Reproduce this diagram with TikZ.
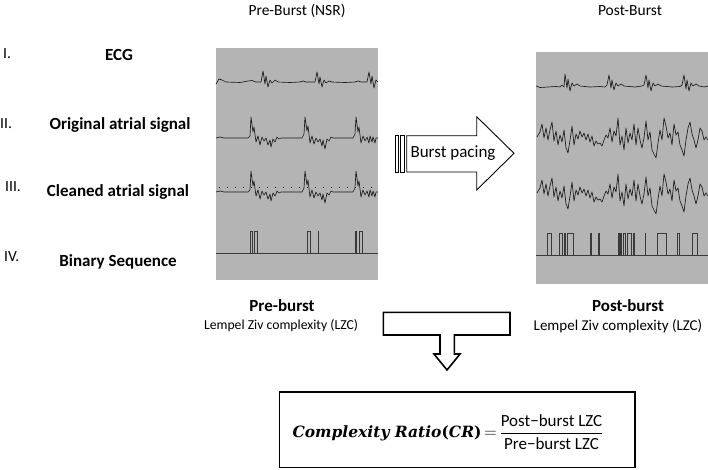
\documentclass[tikz,border=0pt]{standalone}
\usepackage{fontspec}
\usepackage{amsmath}
\setmainfont{Carlito}
\newfontfamily\cambriabi{DejaVu Serif}
\definecolor{panelgray}{HTML}{B4B4B4}
\definecolor{tracecol}{HTML}{1A1A1A}
\definecolor{bincol}{HTML}{3A3A3A}
\tikzset{
  panel/.style={fill=panelgray,draw=none},
  trace/.style={draw=tracecol,line width=0.65pt,line join=round},
  binline/.style={draw=bincol,line width=0.8pt},
  lab/.style={inner sep=0pt,font=\fontsize{17}{20}\selectfont\bfseries},
  roman/.style={inner sep=0pt,anchor=west,font=\fontsize{15.5}{18}\selectfont},
  title/.style={inner sep=0pt,font=\fontsize{15.5}{18}\selectfont},
  blockarrow/.style={draw=black,fill=white,line width=0.9pt,line join=miter},
}
\newcommand\leftatr{%
\draw[trace] (216,138) -- (220,137) -- (224,138) -- (248,138) -- (250,136) -- (251,117) -- (253,132) -- (254,127) -- (256,142) -- (258,136) -- (260,145) -- (262,137) -- (264,141) -- (266,138) -- (268,145) -- (270,140) -- (271,147) -- (273,139) -- (275,142) -- (277,137) -- (279,139) -- (281,138) -- (302,138) -- (304,134) -- (305,117) -- (307,131) -- (308,126) -- (310,143) -- (312,136) -- (314,144) -- (316,138) -- (318,142) -- (320,139) -- (322,146) -- (323,140) -- (325,149) -- (327,139) -- (329,141) -- (331,137) -- (333,138) -- (353,138) -- (355,134) -- (356,117) -- (358,132) -- (359,127) -- (361,143) -- (363,136) -- (365,141) -- (367,137) -- (369,143) -- (370,136) -- (372,142) -- (373,137) -- (375,143) -- (376,138) -- (378,138);}
\newcommand\rightatr{%
\draw[trace] (537,137) -- (540,132) -- (542,124) -- (544,138) -- (546,128) -- (548,140) -- (550,130) -- (552,122) -- (554,141) -- (556,131) -- (558,145) -- (560,135) -- (562,142) -- (564,130) -- (566,148) -- (568,153) -- (570,140) -- (572,126) -- (574,145) -- (576,134) -- (578,139) -- (580,131) -- (582,137) -- (584,133) -- (586,140) -- (588,134) -- (590,142) -- (592,136) -- (594,146) -- (596,141) -- (598,144) -- (600,143) -- (602,146) -- (604,140) -- (606,135) -- (608,138) -- (610,128) -- (612,142) -- (614,131) -- (616,136) -- (618,118) -- (620,145) -- (622,136) -- (624,150) -- (626,128) -- (628,143) -- (630,133) -- (632,140) -- (634,124) -- (636,145) -- (638,128) -- (640,140) -- (642,148) -- (644,138) -- (646,121) -- (648,140) -- (650,132) -- (652,150) -- (654,154) -- (656,158) -- (658,143) -- (660,130) -- (662,140) -- (664,118) -- (666,126) -- (668,138) -- (670,133) -- (672,145) -- (674,124) -- (676,135) -- (678,132) -- (680,145) -- (682,150) -- (684,156) -- (686,140) -- (688,128) -- (690,122) -- (692,134) -- (694,140) -- (696,148) -- (698,140) -- (700,128) -- (702,131) -- (704,140) -- (706,137) -- (708,140);}
\begin{document}
\begin{tikzpicture}[x=1pt,y=-1pt]
\useasboundingbox (0,0) rectangle (708,469);
% panels
\fill[panel] (216,48) rectangle (378,280);
\fill[panel] (536,52) rectangle (708,284);
% titles
\node[title] (pretitle) at (297,11) {Pre-Burst (NSR)};
\node[title] (posttitle) at (630,11) {Post-Burst};
% row labels
\node[roman] (r1) at (3,54) {I.};
\node[roman] (r2) at (0,124) {II.};
\node[roman] (r3) at (5,187) {III.};
\node[roman] (r4) at (4,257) {IV.};
\node[lab] (l1) at (119,55) {ECG};
\node[lab] (l2) at (120,125) {Original atrial signal};
\node[lab] (l3) at (118,192) {Cleaned atrial signal};
\node[lab] (l4) at (118,262) {Binary Sequence};
% left ECG
\draw[trace] (216,84) -- (219,79) -- (222,80) -- (226,82) -- (240,82.5) -- (248,81) -- (252,80.5) -- (256,82) -- (261,82) -- (263,71) -- (265,84) -- (266,76) -- (268,87) -- (270,80) -- (272,83) -- (275,80) -- (278,82) -- (290,82.5) -- (300,82) -- (303,81) -- (306,82) -- (315,82) -- (317,72) -- (319,84) -- (320,77) -- (322,87) -- (324,80) -- (326,83) -- (329,81) -- (332,82) -- (345,82.5) -- (355,82) -- (358,81) -- (361,82) -- (367,82) -- (369,72) -- (371,84) -- (372,76) -- (374,88) -- (376,80) -- (378,82);
% left atrial signals
\leftatr
\begin{scope}[yshift=-54pt]
\leftatr
\end{scope}
\draw[black,line width=1.3pt,dash pattern=on 1.3pt off 6.7pt] (219,187.3) -- (378,187.3);
% left binary
\draw[binline] (216,253.3) -- (378,253.3);
\foreach \a/\b in {250.7/252,254.3/257.3,307.3/310,318/318.6,355.7/356.7,359.3/362.7}
  \draw[binline] (\a,253.3) -- (\a,231) -- (\b,231) -- (\b,253.3);
% right ECG
\draw[trace] (536,86) -- (540,87.5) -- (548,87) -- (556,86.5) -- (560,87) -- (562,85) -- (564,87) -- (565,74) -- (567,88) -- (568,79) -- (570,91) -- (572,83) -- (574,86) -- (577,84) -- (580,86) -- (590,87) -- (600,86.5) -- (605,87) -- (607,85) -- (609,75) -- (611,88) -- (612,80) -- (614,90) -- (616,83) -- (618,86) -- (621,84) -- (624,86) -- (635,87) -- (642,86) -- (644,85) -- (646,75) -- (648,88) -- (649,80) -- (651,91) -- (653,83) -- (655,86) -- (658,84) -- (661,86) -- (672,87) -- (680,86.5) -- (682,85) -- (684,75) -- (686,89) -- (687,80) -- (689,91) -- (691,83) -- (693,86) -- (696,84) -- (699,86) -- (704,87) -- (708,86);
% right atrial signals
\rightatr
\begin{scope}[yshift=-56pt]
\rightatr
\end{scope}
% right binary
\draw[binline] (536,255.7) -- (708,255.7);
\foreach \a/\b in {547.3/551,559.3/562.7,564.3/565,567.5/573,590.7/591.5,598.3/599.3,618/619.5,620.5/621.5,623/625,627/631,633/634,645/645.8,657/666.7,677.3/679.3,692/697.3}
  \draw[binline] (\a,255.7) -- (\a,233.3) -- (\b,233.3) -- (\b,255.7);
% burst pacing arrow
\draw[blockarrow] (406.7,135.7) -- (476.7,135.7) -- (476.7,116.7) -- (514,153.3) -- (476.7,190) -- (476.7,172) -- (406.7,172) -- cycle;
\draw[blockarrow] (395.7,135.7) rectangle (398.8,172);
\draw[blockarrow] (400.8,135.7) rectangle (404.6,172);
\node[inner sep=0pt,font=\fontsize{17}{20}\selectfont] (burst) at (453,153) {Burst pacing};
% LZC labels
\node[lab] (prelab) at (282,306) {Pre-burst};
\node[inner sep=0pt,font=\fontsize{13.7}{16}\selectfont] (prelzc) at (281,326) {Lempel Ziv complexity (LZC)};
\node[lab] (postlab) at (628,306) {Post-burst};
\node[inner sep=0pt,font=\fontsize{15}{18}\selectfont] (postlzc) at (618,326) {Lempel Ziv complexity (LZC)};
% down arrow
\draw[blockarrow,line width=1.6pt] (383.3,312.3) -- (510,312.3) -- (510,335) -- (454.3,335) -- (454.3,354) -- (460,354) -- (447,370) -- (434,354) -- (440,354) -- (440,335) -- (383.3,335) -- cycle;
% formula box
\draw[line width=1.6pt] (279.3,392) rectangle (635,467.5);
\node[inner sep=0pt,font=\fontsize{17}{20}\selectfont] (cr) at (448,432)
  {{\cambriabi\fontsize{15.5}{18}\selectfont\bfseries\itshape Complexity Ratio\upshape(\itshape CR\upshape)}\,$=$\,$\dfrac{\text{Post−burst LZC}}{\text{Pre−burst LZC}}$};
\end{tikzpicture}
\end{document}
